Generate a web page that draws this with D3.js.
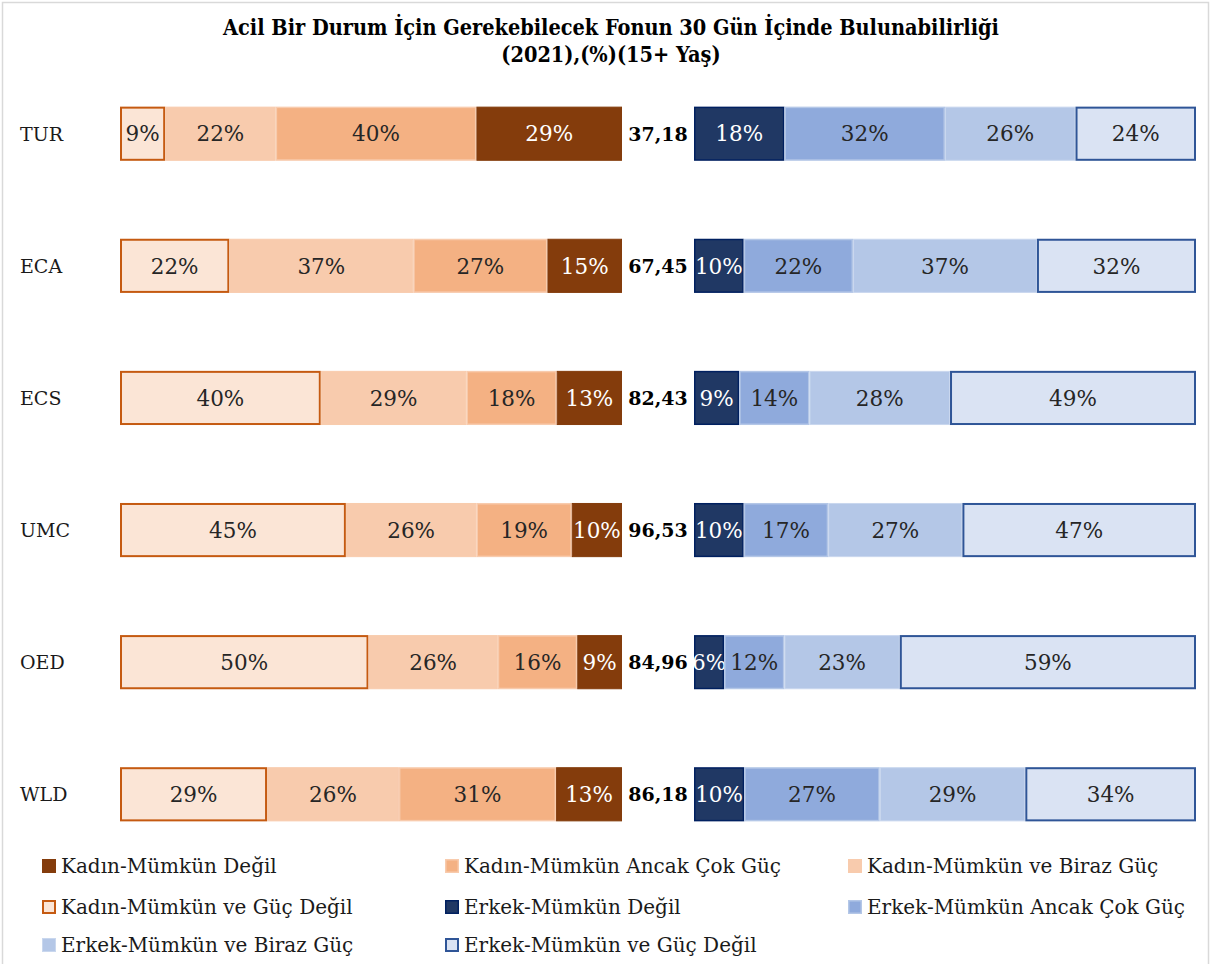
<!DOCTYPE html>
<html>
  <head>
    <title>Acil Durum Fonu</title>
    <script src="https://d3js.org/d3.v7.min.js"></script>
    <style>
      body { margin: 0; background: #fff; }
      svg { display: block; font-family: "DejaVu Serif", serif; }
      .title { font-family: "DejaVu Serif Condensed", "DejaVu Serif", serif; font-weight: bold; font-size: 21.5px; fill: #000; }
      .cat { font-size: 19px; fill: #1a1a1a; }
      .seg-label { font-size: 21.5px; }
      .mid { font-size: 19px; font-weight: bold; fill: #000; }
      .legend text { font-size: 20px; fill: #1a1a1a; }
    </style>
  </head>
  <body>
    <svg width="1212" height="964"></svg>

    <script>
      // data
      const countries = ["TUR", "ECA", "ECS", "UMC", "OED", "WLD"];
      const midValues = ["37,18", "67,45", "82,43", "96,53", "84,96", "86,18"];

      // women, drawn left to right
      const kadinGucDegil   = [9, 22, 40, 45, 50, 29];
      const kadinBirazGuc   = [22, 37, 29, 26, 26, 26];
      const kadinCokGuc     = [40, 27, 18, 19, 16, 31];
      const kadinMumkunDegil = [29, 15, 13, 10, 9, 13];

      // men, drawn left to right
      const erkekMumkunDegil = [18, 10, 9, 10, 6, 10];
      const erkekCokGuc     = [32, 22, 14, 17, 12, 27];
      const erkekBirazGuc   = [26, 37, 28, 27, 23, 29];
      const erkekGucDegil   = [24, 32, 49, 47, 59, 34];

      const series = {
        kGD: { name: "Kadın-Mümkün ve Güç Değil", values: kadinGucDegil, fill: "#FBE5D6", stroke: "#C55A11", sw: 2, text: "#262626" },
        kBG: { name: "Kadın-Mümkün ve Biraz Güç", values: kadinBirazGuc, fill: "#F8CBAD", stroke: "#F8CBAD", sw: 1, text: "#262626" },
        kCG: { name: "Kadın-Mümkün Ancak Çok Güç", values: kadinCokGuc, fill: "#F4B183", stroke: "#F8CBAD", sw: 1.5, text: "#262626" },
        kMD: { name: "Kadın-Mümkün Değil", values: kadinMumkunDegil, fill: "#843C0C", stroke: "#843C0C", sw: 1, text: "#ffffff" },
        eMD: { name: "Erkek-Mümkün Değil", values: erkekMumkunDegil, fill: "#203864", stroke: "#002060", sw: 1.5, text: "#ffffff" },
        eCG: { name: "Erkek-Mümkün Ancak Çok Güç", values: erkekCokGuc, fill: "#8FAADC", stroke: "#B4C7E7", sw: 1.5, text: "#262626" },
        eBG: { name: "Erkek-Mümkün ve Biraz Güç", values: erkekBirazGuc, fill: "#B4C7E7", stroke: "#C9D7EE", sw: 1, text: "#262626" },
        eGD: { name: "Erkek-Mümkün ve Güç Değil", values: erkekGucDegil, fill: "#DAE3F3", stroke: "#2F5597", sw: 2, text: "#262626" }
      };
      const leftKeys = ["kGD", "kBG", "kCG", "kMD"];
      const rightKeys = ["eMD", "eCG", "eBG", "eGD"];
      const legendKeys = ["kMD", "kCG", "kBG", "kGD", "eMD", "eCG", "eBG", "eGD"];

      const svg = d3.select("svg");

      // outer frame
      svg.append("rect")
        .attr("x", 2.5).attr("y", 2.5).attr("width", 1206).attr("height", 968)
        .attr("fill", "none").attr("stroke", "#D9D9D9").attr("stroke-width", 1.5);

      svg.append("text").attr("class", "title")
        .attr("x", 611).attr("y", 35).attr("text-anchor", "middle")
        .text("Acil Bir Durum İçin Gerekebilecek Fonun 30 Gün İçinde Bulunabilirliği");
      svg.append("text").attr("class", "title")
        .attr("x", 611).attr("y", 62).attr("text-anchor", "middle")
        .text("(2021),(%)(15+ Yaş)");

      const y = d3.scaleBand().domain(countries).range([67, 861]).paddingInner(0.59).paddingOuter(0.3);
      const xLeft = d3.scaleLinear().domain([0, 1]).range([120, 622]);
      const xRight = d3.scaleLinear().domain([0, 1]).range([694, 1196]);

      function drawSide(keys, x) {
        const rows = countries.map((c, i) => {
          const vals = keys.map(k => series[k].values[i]);
          const total = d3.sum(vals);
          let acc = 0;
          return keys.map((k, j) => {
            const seg = { key: k, country: c, v: vals[j], x0: acc / total, x1: (acc + vals[j]) / total };
            acc += vals[j];
            return seg;
          });
        }).flat();

        const g = svg.append("g");
        const seg = g.selectAll("g.seg").data(rows).join("g").attr("class", "seg");
        seg.append("rect")
          .attr("x", d => x(d.x0) + series[d.key].sw / 2)
          .attr("y", d => y(d.country) + series[d.key].sw / 2)
          .attr("width", d => x(d.x1) - x(d.x0) - series[d.key].sw)
          .attr("height", d => y.bandwidth() - series[d.key].sw)
          .attr("fill", d => series[d.key].fill)
          .attr("stroke", d => series[d.key].stroke)
          .attr("stroke-width", d => series[d.key].sw);
        seg.append("text").attr("class", "seg-label")
          .attr("x", d => (x(d.x0) + x(d.x1)) / 2)
          .attr("y", d => y(d.country) + y.bandwidth() / 2)
          .attr("dy", "0.36em")
          .attr("text-anchor", "middle")
          .attr("fill", d => series[d.key].text)
          .text(d => d.v + "%");
      }
      drawSide(leftKeys, xLeft);
      drawSide(rightKeys, xRight);

      svg.append("g").selectAll("text").data(countries).join("text")
        .attr("class", "cat")
        .attr("x", 20)
        .attr("y", d => y(d) + y.bandwidth() / 2)
        .attr("dy", "0.36em")
        .text(d => d);

      svg.append("g").selectAll("text").data(midValues).join("text")
        .attr("class", "mid")
        .attr("x", 658)
        .attr("y", (d, i) => y(countries[i]) + y.bandwidth() / 2)
        .attr("dy", "0.36em")
        .attr("text-anchor", "middle")
        .text(d => d);

      // legend, 3 columns
      const colX = [42, 445, 848];
      const rowY = [866, 907, 945];
      const lg = svg.append("g").attr("class", "legend");
      const item = lg.selectAll("g").data(legendKeys).join("g")
        .attr("transform", (d, i) => `translate(${colX[i % 3]}, ${rowY[Math.floor(i / 3)]})`);
      item.append("rect")
        .attr("x", d => series[d].sw / 2).attr("y", d => -7 + series[d].sw / 2)
        .attr("width", d => 14 - series[d].sw).attr("height", d => 14 - series[d].sw)
        .attr("fill", d => series[d].fill)
        .attr("stroke", d => series[d].stroke)
        .attr("stroke-width", d => series[d].sw);
      item.append("text")
        .attr("x", 19).attr("dy", "0.36em")
        .text(d => series[d].name);
    </script>
  </body>
</html>
